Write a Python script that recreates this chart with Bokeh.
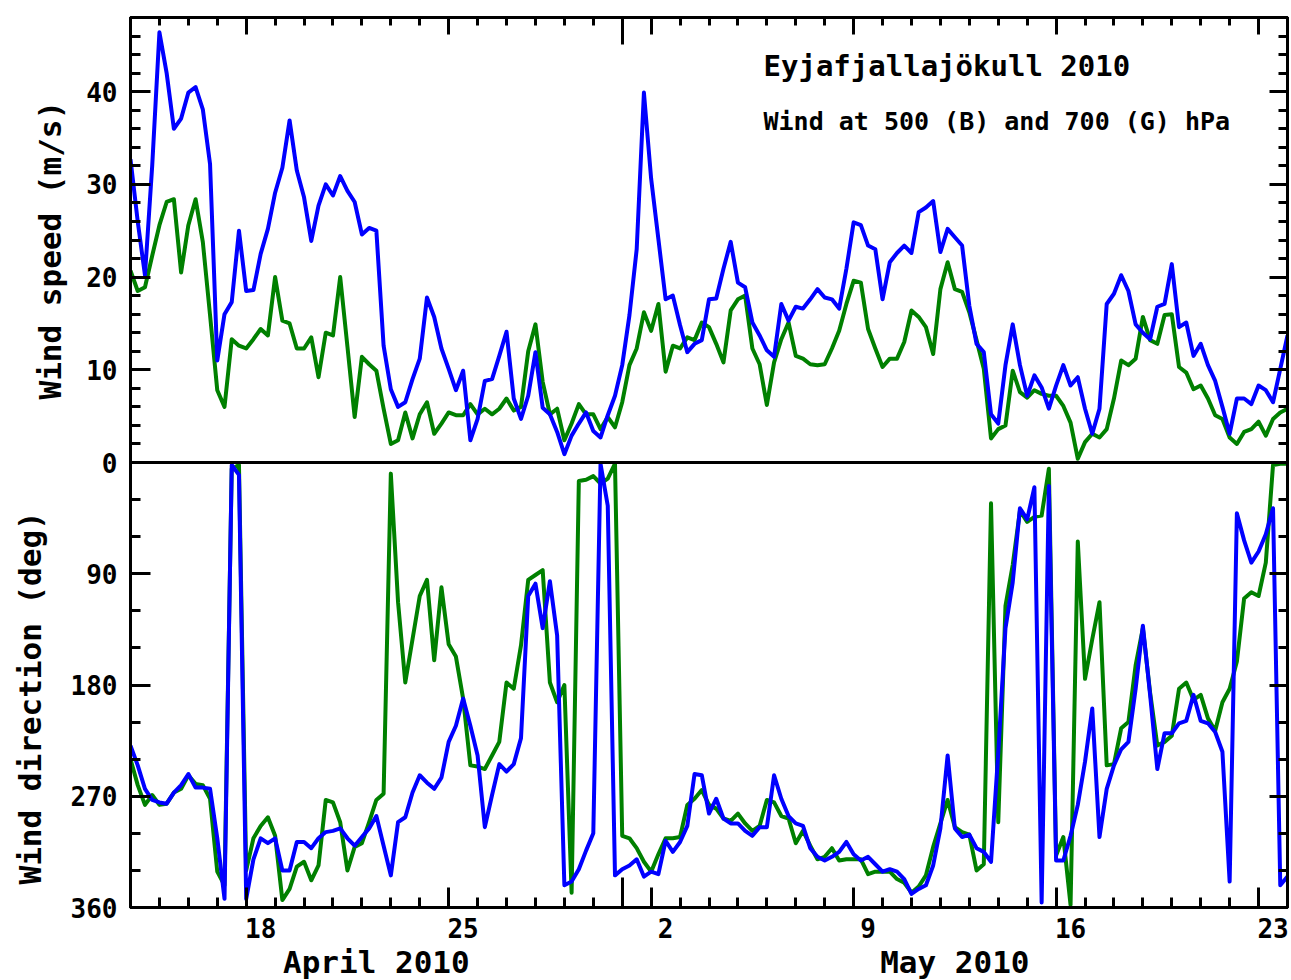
import pandas as pd
from bokeh.plotting import figure
from bokeh.models import (Range1d, LinearAxis, FixedTicker, CustomJSTickFormatter, Label, Span,
                          Title)
from bokeh.embed import file_html
from bokeh.resources import INLINE

FONT = "DejaVu Sans Mono"

# 6-hourly analysis times
times = pd.date_range("2010-04-14 00:00", "2010-05-24 00:00", freq="6h")

# Wind speed (m/s) at 500 hPa (blue) - 4 values per day
speed_500 = [
    32.7, 26.0, 20.2, 32.0,   # Apr 14
    46.4, 42.0, 36.0, 37.1,
    39.9, 40.5, 38.1, 32.2,
    11.0, 16.0, 17.3, 25.0,
    18.5, 18.6, 22.5, 25.2,   # Apr 18
    29.1, 31.8, 36.9, 31.5,
    28.6, 23.9, 27.7, 30.0,
    28.8, 30.9, 29.3, 28.1,
    24.6, 25.3, 25.0, 12.6,
    7.9, 6.0, 6.5, 9.0,
    11.2, 17.8, 15.7, 12.3,
    10.1, 7.8, 9.9, 2.4,      # Apr 25
    4.7, 8.8, 9.0, 11.5,
    14.1, 6.9, 4.7, 7.2,
    11.9, 5.9, 5.2, 3.3,
    0.9, 2.9, 4.2, 5.4,
    3.4, 2.7, 5.1, 7.2,       # Apr 30
    10.5, 15.9, 23.0, 39.9,   # May 1
    30.6, 24.1, 17.6, 18.0,
    14.8, 11.9, 12.8, 13.2,
    17.6, 17.7, 20.9, 23.8,
    19.4, 18.9, 15.1, 13.7,
    12.1, 11.4, 17.1, 15.3,
    16.8, 16.6, 17.6, 18.7,
    17.8, 17.6, 16.6, 20.9,
    25.9, 25.6, 23.4, 23.0,   # May 9
    17.6, 21.6, 22.6, 23.4,
    22.6, 27.0, 27.5, 28.2,
    22.7, 25.2, 24.3, 23.4,
    16.9, 12.8, 11.9, 5.2,
    4.2, 10.5, 14.9, 10.5,
    7.2, 9.4, 8.1, 5.8,
    8.3, 10.5, 8.3, 9.2,      # May 16
    5.8, 3.1, 5.8, 17.1,
    18.2, 20.2, 18.5, 14.9,
    14.0, 13.3, 16.8, 17.1,
    21.4, 14.6, 15.1, 11.5,
    12.8, 10.5, 8.8, 6.0,
    3.1, 6.9, 6.9, 6.3,
    8.3, 7.8, 6.5, 10.1,      # May 23
    13.7,
]

# Wind speed (m/s) at 700 hPa (green)
speed_700 = [
    20.7, 18.5, 18.9, 22.3,
    25.6, 28.1, 28.4, 20.5,
    25.6, 28.4, 23.8, 15.9,
    7.8, 6.0, 13.3, 12.6,
    12.3, 13.3, 14.4, 13.7,
    20.0, 15.3, 15.0, 12.3,
    12.3, 13.5, 9.2, 14.0,
    13.7, 20.0, 12.5, 4.9,
    11.4, 10.6, 9.9, 5.8,
    2.0, 2.4, 5.4, 2.6,
    5.2, 6.5, 3.1, 4.2,
    5.4, 5.1, 5.1, 6.3,
    5.2, 5.8, 5.2, 5.8,
    6.9, 5.6, 6.0, 12.0,
    14.9, 8.7, 5.2, 5.8,
    2.4, 4.2, 6.3, 5.2,
    5.2, 3.6, 4.9, 3.8,
    6.5, 10.5, 12.3, 16.2,
    14.2, 17.1, 9.8, 12.6,
    12.3, 13.5, 13.2, 15.1,
    14.6, 12.8, 10.8, 16.4,
    17.6, 18.0, 12.3, 10.6,
    6.2, 10.8, 13.3, 15.1,
    11.5, 11.2, 10.6, 10.5,
    10.6, 12.3, 14.2, 17.1,
    19.6, 19.4, 14.4, 12.3,
    10.3, 11.2, 11.2, 13.0,
    16.4, 15.7, 14.6, 11.7,
    18.7, 21.6, 18.7, 18.4,
    16.2, 13.2, 10.1, 2.6,
    3.6, 4.0, 9.9, 7.6,
    7.0, 7.8, 7.4, 7.2,
    7.2, 6.1, 4.3, 0.4,
    2.2, 3.1, 2.7, 3.6,
    6.9, 11.0, 10.5, 11.2,
    15.7, 13.2, 12.8, 15.9,
    16.0, 10.3, 9.7, 7.9,
    8.3, 6.9, 5.1, 4.7,
    2.7, 2.0, 3.3, 3.6,
    4.4, 2.9, 4.7, 5.4,
    5.8,
]

# Wind direction (deg) at 500 hPa (blue)
dir_500 = [
    229, 245, 264, 273,
    275, 276, 267, 261,
    252, 263, 263, 264,
    304, 353, 2, 10,
    353, 321, 304, 308,
    304, 330, 330, 307,
    307, 312, 304, 299,
    298, 296, 304, 310,
    303, 296, 286, 310,
    334, 291, 287, 267,
    253, 259, 264, 255,
    226, 213, 191, 213,
    237, 295, 269, 244,
    250, 244, 223, 108,
    98, 134, 96, 140,
    342, 339, 329, 314,
    300, 1, 35, 334,
    329, 326, 321, 335,
    331, 333, 306, 315,
    307, 294, 252, 253,
    284, 272, 288, 292,
    292, 298, 302, 295,
    295, 253, 272, 286,
    292, 294, 312, 319,
    322, 319, 315, 307,
    317, 322, 319, 325,
    331, 329, 331, 337,
    349, 345, 342, 326,
    296, 237, 296, 303,
    301, 312, 315, 323,
    235, 134, 97, 37,
    46, 20, 356, 19,
    322, 322, 302, 277,
    242, 199, 303, 264,
    245, 232, 226, 183,
    132, 188, 248, 219,
    219, 211, 209, 188,
    209, 211, 218, 234,
    339, 41, 63, 81,
    72, 58, 37, 342,
    335,
]

# Wind direction (deg) at 700 hPa (green)
dir_700 = [
    240, 261, 277, 269,
    277, 276, 267, 264,
    253, 260, 261, 272,
    331, 342, 5, 2,
    330, 304, 294, 287,
    302, 354, 345, 327,
    323, 338, 326, 273,
    275, 291, 330, 311,
    308, 291, 273, 268,
    9, 113, 178, 143,
    108, 95, 160, 101,
    147, 157, 191, 245,
    246, 248, 237, 226,
    178, 183, 148, 95,
    91, 87, 178, 194,
    180, 348, 15, 14,
    11, 17, 13, 1,
    302, 304, 312, 323,
    331, 317, 304, 304,
    303, 277, 272, 265,
    277, 280, 288, 290,
    284, 292, 298, 294,
    273, 275, 286, 288,
    308, 298, 310, 321,
    319, 312, 322, 321,
    321, 321, 333, 331,
    331, 331, 337, 340,
    348, 343, 334, 311,
    292, 273, 295, 299,
    301, 330, 325, 33,
    291, 116, 83, 39,
    48, 44, 43, 5,
    318, 303, 358, 64,
    175, 143, 113, 245,
    244, 215, 210, 164,
    134, 186, 229, 226,
    221, 183, 178, 192,
    188, 207, 217, 194,
    183, 161, 110, 105,
    108, 81, 2, 1,
    1,
]

day_tick_dates = ["2010-04-18", "2010-04-25", "2010-05-02", "2010-05-09", "2010-05-16", "2010-05-23"]
day_tick_labels = ["18", "25", "2", "9", "16", "23"]
month_starts = ["2010-04-01", "2010-05-01", "2010-06-01"]
month_labels = ["April 2010", "May 2010"]
speed_ticks = [0, 10, 20, 30, 40]
speed_minor = list(range(0, 49, 2))
dir_ticks = [90, 180, 270, 360]
dir_minor = list(range(30, 361, 30))
speed_title = "Wind speed (m/s)"
dir_title = "Wind direction (deg)"
title_lines = ["Eyjafjallaj\u00f6kull 2010", "Wind at 500 (B) and 700 (G) hPa"]

assert len(speed_500) == len(speed_700) == len(dir_500) == len(dir_700) == len(times)


def ms(ts):
    return pd.Timestamp(ts).value / 1e6


x0, x1 = ms(times[0]), ms(times[-1])
day_bounds = [ms(d) for d in pd.date_range(times[0], times[-1], freq="D")]
week_ticks = [ms(d) for d in day_tick_dates]
label_pos = [ms(pd.Timestamp(d) + pd.Timedelta(hours=12)) for d in day_tick_dates]
mb = [ms(d) for d in month_starts]
month_pos = [(max(a, x0) + min(b, x1)) / 2 for a, b in zip(mb[:-1], mb[1:])]
month_ticks = [m for m in mb if x0 < m < x1]

SPEED_MAX = 48   # top of the speed panel (upper half of the frame)
DIR_MAX = 360    # bottom of the direction panel (lower half of the frame)


def dir_pos(d):
    # where a direction value sits on the frame's main (speed) coordinate
    return -d * SPEED_MAX / DIR_MAX


left_ticks = speed_ticks + [dir_pos(d) for d in dir_ticks]
left_labels = [str(v) for v in speed_ticks] + [str(d) for d in dir_ticks]
left_minor = speed_minor + [dir_pos(d) for d in dir_minor]

blank = CustomJSTickFormatter(code="return '';")


def fmt(positions, labels):
    return CustomJSTickFormatter(args=dict(pos=positions, labels=labels),
                                 code="const i = pos.indexOf(tick); return i < 0 ? '' : labels[i];")


def axis(ticks, minor=(), tin=0, min_in=0, font_size="0px", standoff=0, formatter=None, **kw):
    ax = LinearAxis(ticker=FixedTicker(ticks=list(ticks), minor_ticks=list(minor)),
                    major_tick_in=tin, major_tick_out=0, minor_tick_in=min_in, minor_tick_out=0,
                    major_tick_line_width=3, minor_tick_line_width=3, axis_line_width=3,
                    major_tick_line_color="black", minor_tick_line_color="black",
                    major_label_text_font=FONT, major_label_text_font_style="bold",
                    major_label_text_font_size=font_size, major_label_standoff=standoff,
                    major_label_text_color="black", **kw)
    ax.formatter = formatter if formatter is not None else blank
    return ax


p = figure(x_range=Range1d(x0, x1), y_range=Range1d(-SPEED_MAX, SPEED_MAX),
           frame_width=1157, frame_height=890,
           x_axis_location=None, y_axis_location=None, toolbar_location=None,
           output_backend="svg", min_border_left=130, min_border_right=3,
           min_border_top=17, min_border_bottom=0,
           background_fill_color="white", border_fill_color="white",
           outline_line_color="black", outline_line_width=3)
p.grid.visible = False
p.extra_y_ranges = {"dir": Range1d(start=DIR_MAX, end=-DIR_MAX)}

BLUE = "#0000ff"
GREEN = "#008000"
LW = 4

# upper panel: wind speed
p.line(times, speed_700, line_color=GREEN, line_width=LW, line_join="round")
p.line(times, speed_500, line_color=BLUE, line_width=LW, line_join="round")
# lower panel: wind direction
p.line(times, dir_700, line_color=GREEN, line_width=LW, line_join="round", y_range_name="dir")
p.line(times, dir_500, line_color=BLUE, line_width=LW, line_join="round", y_range_name="dir")

# divider between the two panels
p.add_layout(Span(location=0, dimension="width", line_color="black", line_width=3))

# left axis (speed ticks in upper half, direction ticks in lower half)
p.add_layout(axis(left_ticks, left_minor, tin=20, min_in=10, font_size="26px", standoff=13,
                  formatter=fmt(left_ticks, left_labels)), "left")
# right axis, ticks only
p.add_layout(axis(left_ticks, left_minor, tin=18, min_in=9), "right")
# top axes (ticks only)
p.add_layout(axis(week_ticks, day_bounds, tin=17, min_in=8), "above")
p.add_layout(axis(month_ticks, tin=27, fixed_location=SPEED_MAX), "above")
# bottom axes: day labels, month labels, and longer ticks
p.add_layout(axis(label_pos, day_bounds, tin=0, min_in=10, font_size="26px", standoff=10,
                  formatter=fmt(label_pos, day_tick_labels)), "below")
p.add_layout(axis(month_pos, tin=0, font_size="31px", standoff=3,
                  formatter=fmt(month_pos, month_labels), axis_line_color=None), "below")
p.add_layout(axis(week_ticks, tin=20, fixed_location=-SPEED_MAX), "below")
p.add_layout(axis(month_ticks, tin=30, fixed_location=-SPEED_MAX), "below")

# axis titles (one per panel); offset is measured up from the bottom of the frame
p.add_layout(Title(text=speed_title, align="left", offset=508, standoff=0,
                   text_font=FONT, text_font_style="bold", text_font_size="31px",
                   text_color="black"), "left")
p.add_layout(Title(text=dir_title, align="left", offset=23, standoff=-37,
                   text_font=FONT, text_font_style="bold", text_font_size="31px",
                   text_color="black"), "left")

# chart title
p.add_layout(Label(x=633, y=842, x_units="screen", y_units="screen", text=title_lines[0],
                   text_font=FONT, text_font_style="bold", text_font_size="29px",
                   text_baseline="middle", text_color="black"))
p.add_layout(Label(x=633, y=786, x_units="screen", y_units="screen", text=title_lines[1],
                   text_font=FONT, text_font_style="bold", text_font_size="25px",
                   text_baseline="middle", text_color="black"))

open("out.html", "w").write(file_html(p, INLINE))
